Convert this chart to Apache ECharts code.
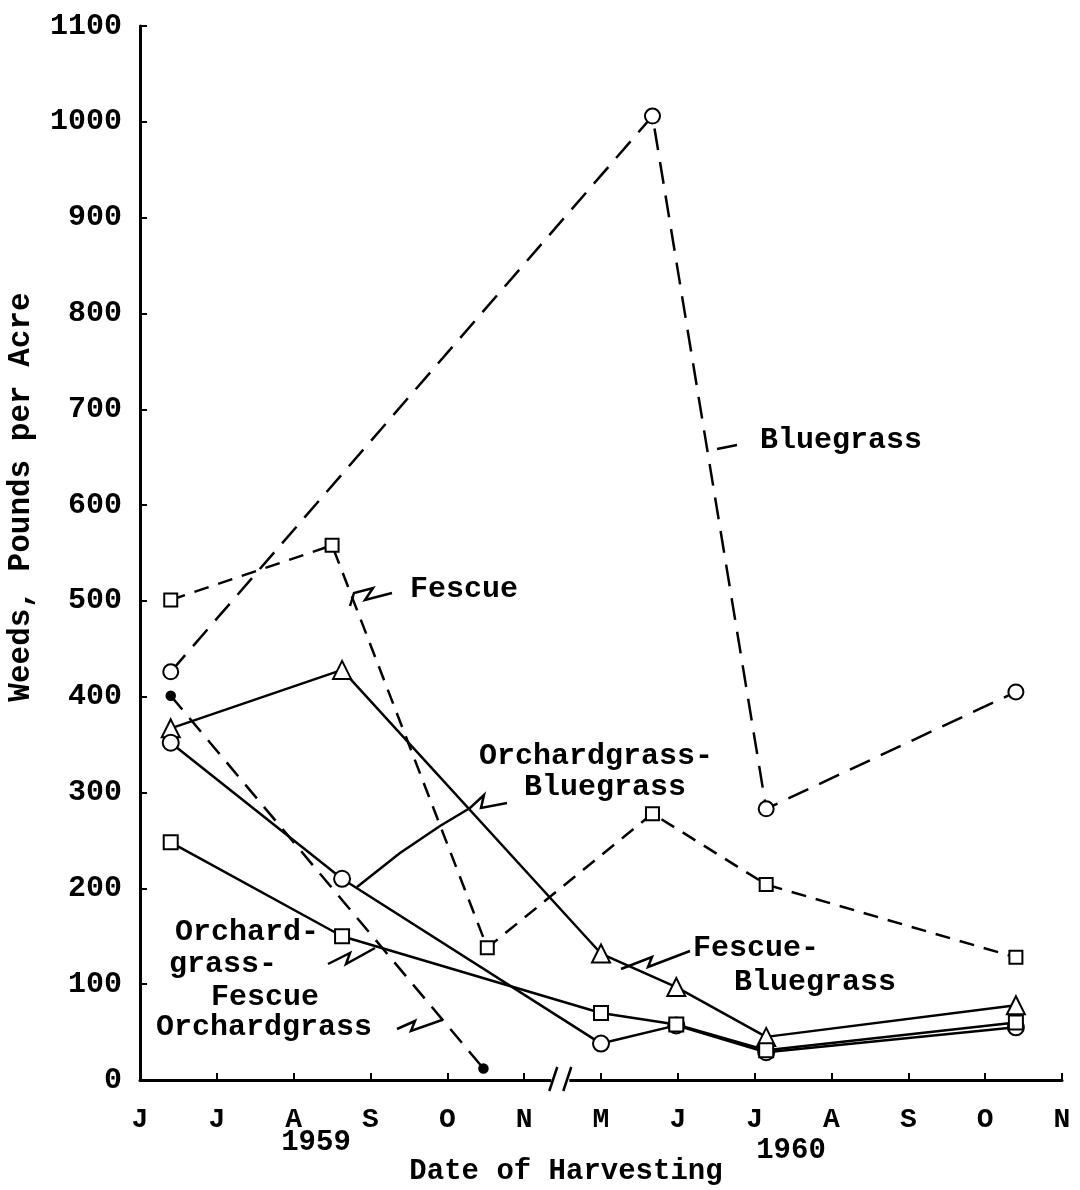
<!DOCTYPE html>
<html>
<head>
<meta charset="utf-8">
<title>Weeds, Pounds per Acre</title>
<script src="https://cdn.jsdelivr.net/npm/echarts@6/dist/echarts.min.js"></script>
<style>
  html, body { margin: 0; padding: 0; background: #fff; }
  #chart { width: 1080px; height: 1190px; }
</style>
</head>
<body>
<div id="chart"></div>
<script>
// month ticks: 0 = Jun 1959 ... 5 = Nov 1959, 6 = May 1960 ... 12 = Nov 1960
const monthLabels = ['J', 'J', 'A', 'S', 'O', 'N', 'M', 'J', 'J', 'A', 'S', 'O', 'N'];
const yTicks = [0, 100, 200, 300, 400, 500, 600, 700, 800, 900, 1000, 1100];

// harvest dates (month index) and weeds, lb per acre
const bluegrassX = [0.4, 6.67, 8.15, 11.4];
const bluegrassY = [426, 1006, 283, 405];

const fescueX = [0.4, 2.5, 4.52, 6.67, 8.15, 11.4];
const fescueY = [501, 558, 138, 278, 204, 128];

const fescueBlueX = [0.4, 2.63, 6.0, 6.98, 8.15, 11.4];
const fescueBlueY = [367, 428, 132, 97, 45, 78];

const orchBlueX = [0.4, 2.63, 6.0, 6.98, 8.15, 11.4];
const orchBlueY = [352, 210, 38, 57, 29, 55];

const orchFescueX = [0.4, 2.63, 6.0, 6.98, 8.15, 11.4];
const orchFescueY = [248, 150, 70, 58, 31, 60];

const orchardX = [0.4, 4.47];
const orchardY = [401, 12];

// where the time axis is broken (between Nov and May)
const breakAt = [5.47];

const font = "'Liberation Mono', 'DejaVu Sans Mono', monospace";
const ink = '#000';

function pairs(xs, ys) {
    return xs.map((x, i) => [x, ys[i]]);
}

function lineSeries(name, xs, ys, symbol, size, dash) {
    return {
        name: name,
        type: 'line',
        data: pairs(xs, ys),
        symbol: symbol,
        symbolSize: size,
        clip: false,
        lineStyle: { color: ink, width: 2.5, type: dash || 'solid' },
        itemStyle: { color: ink, borderColor: ink, borderWidth: 2.5 },
        z: 3
    };
}

function text(str, x, y, size, align) {
    return {
        type: 'text',
        x: x, y: y,
        style: {
            text: str, fill: ink,
            font: 'bold ' + size + 'px ' + font,
            align: align || 'center', verticalAlign: 'middle'
        },
        z: 10
    };
}

function leader(points) {
    return {
        type: 'polyline',
        shape: { points: points },
        style: { stroke: ink, lineWidth: 2.5, fill: null },
        z: 10
    };
}

let chart = echarts.init(document.getElementById('chart'));
let option = {
    animation: false,
    backgroundColor: '#fff',
    grid: { left: 140, right: 18, top: 26, bottom: 110, containLabel: false },
    xAxis: {
        type: 'value',
        min: 0, max: 12, interval: 1,
        splitLine: { show: false },
        axisLine: { lineStyle: { color: ink, width: 3 } },
        axisTick: { inside: true, length: 7, lineStyle: { color: ink, width: 2 } },
        axisLabel: {
            margin: 26, color: ink, fontSize: 28, fontWeight: 'bold', fontFamily: font,
            formatter: v => monthLabels[v] || ''
        }
    },
    yAxis: {
        type: 'value',
        min: yTicks[0], max: yTicks[yTicks.length - 1], interval: 100,
        splitLine: { show: false },
        axisLine: { show: true, lineStyle: { color: ink, width: 3 } },
        axisTick: { show: true, inside: true, length: 7, lineStyle: { color: ink, width: 2 } },
        axisLabel: {
            margin: 18, color: ink, fontSize: 30, fontWeight: 'bold', fontFamily: font,
            formatter: v => String(v)
        }
    },
    series: [
        lineSeries('Bluegrass', bluegrassX, bluegrassY, 'emptyCircle', 15, [22, 12]),
        lineSeries('Fescue', fescueX, fescueY, 'emptyRect', 13, [15, 10]),
        lineSeries('Fescue-Bluegrass', fescueBlueX, fescueBlueY, 'emptyTriangle', 18),
        lineSeries('Orchardgrass-Bluegrass', orchBlueX, orchBlueY, 'emptyCircle', 16),
        lineSeries('Orchardgrass-Fescue', orchFescueX, orchFescueY, 'emptyRect', 14),
        lineSeries('Orchardgrass', orchardX, orchardY, 'circle', 8, [18, 11]),
        {
            type: 'custom',
            clip: false,
            silent: true,
            z: 5,
            data: breakAt.map(b => [b, 0]),
            renderItem: function (params, api) {
                let p = api.coord([api.value(0), api.value(1)]);
                return {
                    type: 'group',
                    children: [
                        { type: 'rect', shape: { x: p[0] - 9, y: p[1] - 3, width: 18, height: 6 },
                          style: { fill: '#fff' } },
                        { type: 'line', shape: { x1: p[0] - 11, y1: p[1] + 11, x2: p[0] - 3, y2: p[1] - 13 },
                          style: { stroke: ink, lineWidth: 2.5 } },
                        { type: 'line', shape: { x1: p[0] + 3, y1: p[1] + 11, x2: p[0] + 11, y2: p[1] - 13 },
                          style: { stroke: ink, lineWidth: 2.5 } }
                    ]
                };
            }
        }
    ],
    graphic: [
        // axis titles and years
        {
            type: 'text', x: 21, y: 497, rotation: Math.PI / 2,
            style: { text: 'Weeds, Pounds per Acre', fill: ink, font: 'bold 31px ' + font,
                     align: 'center', verticalAlign: 'middle' }
        },
        text('Date of Harvesting', 566, 1172, 29),
        text('1959', 316, 1143, 29),
        text('1960', 791, 1151, 29),

        // curve labels
        text('Bluegrass', 841, 440, 30),
        leader([[717, 449], [737, 445]]),

        text('Fescue', 464, 589, 30),
        leader([[350, 606], [354, 593], [373, 588], [365, 600], [392, 593]]),

        text('Orchardgrass-', 596, 756, 30),
        text('Bluegrass', 605, 787, 30),
        leader([[357, 887], [400, 853], [440, 826], [470, 808], [484, 795], [481, 808], [507, 803]]),

        text('Orchard-', 247, 932, 30),
        text('grass-', 223, 964, 30),
        text('Fescue', 265, 997, 30),
        leader([[328, 964], [350, 953], [346, 964], [375, 948]]),

        text('Orchardgrass', 264, 1027, 30),
        leader([[397, 1029], [415, 1021], [411, 1031], [442, 1020]]),

        text('Fescue-', 756, 948, 30),
        text('Bluegrass', 815, 982, 30),
        leader([[621, 969], [652, 957], [648, 967], [690, 951]])
    ]
};
chart.setOption(option);
</script>
</body>
</html>
